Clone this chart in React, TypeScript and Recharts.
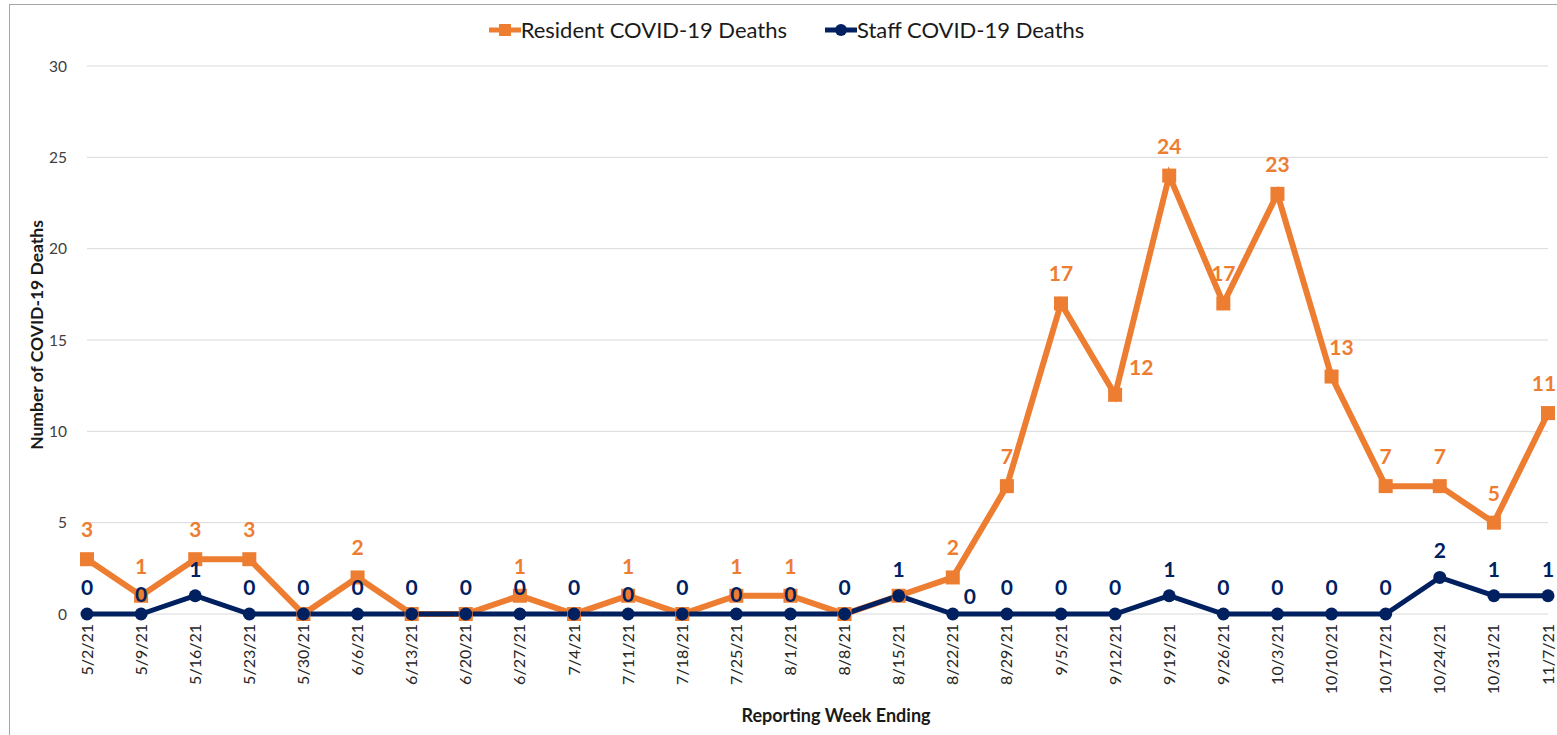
import React from 'react';
import { LineChart, Line, XAxis, YAxis, CartesianGrid } from 'recharts';

const weeks = [
  '5/2/21', '5/9/21', '5/16/21', '5/23/21', '5/30/21', '6/6/21', '6/13/21',
  '6/20/21', '6/27/21', '7/4/21', '7/11/21', '7/18/21', '7/25/21', '8/1/21',
  '8/8/21', '8/15/21', '8/22/21', '8/29/21', '9/5/21', '9/12/21', '9/19/21',
  '9/26/21', '10/3/21', '10/10/21', '10/17/21', '10/24/21', '10/31/21', '11/7/21',
];
const residentDeaths = [3, 1, 3, 3, 0, 2, 0, 0, 1, 0, 1, 0, 1, 1, 0, 1, 2, 7, 17, 12, 24, 17, 23, 13, 7, 7, 5, 11];
const staffDeaths = [0, 0, 1, 0, 0, 0, 0, 0, 0, 0, 0, 0, 0, 0, 0, 1, 0, 0, 0, 0, 1, 0, 0, 0, 0, 2, 1, 1];
const yTicks = [0, 5, 10, 15, 20, 25, 30];

const data = weeks.map((week, i) => ({
  week,
  resident: residentDeaths[i],
  staff: staffDeaths[i],
}));

const ORANGE = '#ED7D31';
const NAVY = '#002060';
const FONT = 'Lato, "Open Sans", sans-serif';

// labels that Excel nudged away from the default spot
const residentRight = ['9/12/21'];
const residentNudge: Record<string, number> = { '10/10/21': 10, '11/7/21': -4 };
const staffRight = ['8/22/21'];
const staffLow = ['5/9/21', '7/11/21', '7/25/21', '8/1/21'];

const XTick = (props: any) => {
  const { x, y, payload } = props;
  return (
    <g transform={`translate(${x},${y})`}>
      <text
        transform="rotate(-90)"
        x={-2}
        y={0}
        dy="0.35em"
        textAnchor="end"
        fontSize={16}
        fill="#262626"
        fontFamily={FONT}
      >
        {payload.value}
      </text>
    </g>
  );
};

const residentLabel = (props: any) => {
  const { x, y, value, index } = props;
  const w = weeks[index];
  if (!value || w === '8/15/21') return null;
  const right = residentRight.includes(w);
  return (
    <text
      key={`rl-${index}`}
      x={right ? x + 14 : x + (residentNudge[w] || 0)}
      y={right ? y - 20 : y - 22}
      textAnchor={right ? 'start' : 'middle'}
      fontSize={21}
      fontWeight={700}
      fill={ORANGE}
      fontFamily={FONT}
    >
      {value}
    </text>
  );
};

const staffLabel = (props: any) => {
  const { x, y, value, index } = props;
  const w = weeks[index];
  let lx = x;
  let ly = y - 19;
  if (staffRight.includes(w)) {
    lx = x + 17;
    ly = y - 10;
  } else if (staffLow.includes(w)) {
    ly = y - 12;
  }
  return (
    <text
      key={`sl-${index}`}
      x={lx}
      y={ly}
      textAnchor="middle"
      fontSize={21}
      fontWeight={700}
      fill={NAVY}
      fontFamily={FONT}
    >
      {value}
    </text>
  );
};

const LegendItem = ({ color, square, text }: { color: string; square: boolean; text: string }) => (
  <div style={{ display: 'flex', alignItems: 'center' }}>
    <svg width={32} height={14}>
      <line x1={0} y1={7} x2={32} y2={7} stroke={color} strokeWidth={5} />
      {square ? (
        <rect x={10} y={1} width={12} height={12} fill={color} />
      ) : (
        <circle cx={16} cy={7} r={6} fill={color} />
      )}
    </svg>
    <span style={{ fontSize: 22, color: '#1a1a1a' }}>{text}</span>
  </div>
);

export default function App() {
  return (
    <div
      style={{
        position: 'absolute',
        left: 0,
        top: 0,
        width: 1557,
        height: 735,
        background: '#fff',
        fontFamily: FONT,
        overflow: 'hidden',
      }}
    >
      <div
        style={{
          position: 'absolute',
          left: 9,
          top: 4,
          width: 1570,
          height: 760,
          border: '1.5px solid #a6a6a6',
        }}
      />
      <div
        style={{
          position: 'absolute',
          top: 16,
          left: 0,
          width: 1557,
          display: 'flex',
          justifyContent: 'center',
          gap: 38,
          paddingLeft: 16,
          boxSizing: 'border-box',
        }}
      >
        <LegendItem color={ORANGE} square text="Resident COVID-19 Deaths" />
        <LegendItem color={NAVY} square={false} text="Staff COVID-19 Deaths" />
      </div>
      <LineChart
        width={1557}
        height={735}
        data={data}
        margin={{ top: 66, right: 9, left: 0, bottom: 0 }}
        style={{ position: 'absolute', left: 0, top: 0 }}
      >
        <CartesianGrid vertical={false} stroke="#d9d9d9" strokeWidth={1} />
        <XAxis
          dataKey="week"
          interval={0}
          axisLine={false}
          tickLine={false}
          height={121}
          tick={<XTick />}
          label={() => (
            <text
              x={836}
              y={722}
              textAnchor="middle"
              fontSize={18}
              fontWeight={700}
              fill="#1a1a1a"
              fontFamily={FONT}
            >
              Reporting Week Ending
            </text>
          )}
        />
        <YAxis
          width={87}
          domain={[0, 30]}
          ticks={yTicks}
          axisLine={false}
          tickLine={false}
          tickMargin={14}
          tick={{ fontSize: 15.5, fill: '#404040', fontFamily: FONT }}
          label={() => (
            <text
              transform="translate(43,335) rotate(-90)"
              textAnchor="middle"
              fontSize={17.5}
              fontWeight={700}
              fill="#1a1a1a"
              fontFamily={FONT}
            >
              Number of COVID-19 Deaths
            </text>
          )}
        />
        <Line
          type="linear"
          dataKey="resident"
          stroke={ORANGE}
          strokeWidth={6}
          isAnimationActive={false}
          dot={(p: any) => (
            <rect key={`r-${p.index}`} x={p.cx - 7} y={p.cy - 7} width={14} height={14} fill={ORANGE} />
          )}
          label={residentLabel}
        />
        <Line
          type="linear"
          dataKey="staff"
          stroke={NAVY}
          strokeWidth={5}
          isAnimationActive={false}
          dot={{ r: 6.5, fill: NAVY, stroke: NAVY, strokeWidth: 0 }}
          label={staffLabel}
        />
      </LineChart>
    </div>
  );
}
